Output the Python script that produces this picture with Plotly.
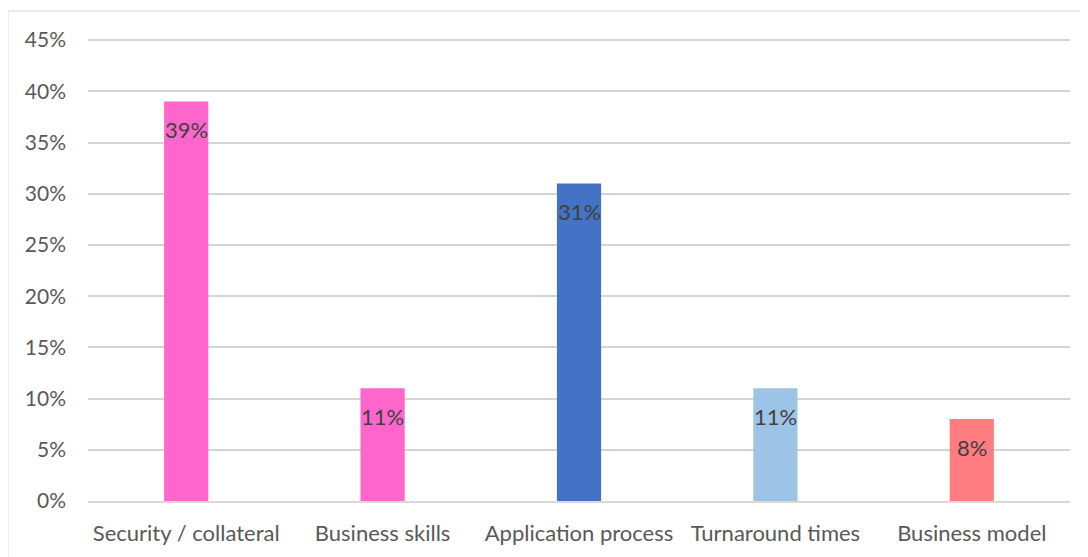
import plotly.graph_objects as go

categories = ["Security / collateral", "Business skills", "Application process", "Turnaround times", "Business model"]
values = [0.39, 0.11, 0.31, 0.11, 0.08]
labels = ["39%", "11%", "31%", "11%", "8%"]
colors = ["#FF66CC", "#FF66CC", "#4472C4", "#9DC3E6", "#FF7C80"]

FONT = "Lato"

fig = go.Figure()
fig.add_trace(go.Bar(
    x=categories, y=values,
    marker=dict(color=colors, line=dict(width=0)),
    width=0.225,
    hoverinfo="x+y",
))

for c, v, t in zip(categories, values, labels):
    fig.add_annotation(x=c, y=v, text=t, showarrow=False, yanchor="middle",
                       yshift=-28, font=dict(family=FONT, size=22, color="#404040"))

fig.add_shape(type="rect", xref="paper", yref="paper",
              x0=-0.0815, x1=1.1, y0=-0.3, y1=1.0515,
              line=dict(color="#d9d9d9", width=1), fillcolor="rgba(0,0,0,0)", layer="below")

fig.update_layout(
    width=1080, height=549,
    margin=dict(l=80, r=18, t=27, b=56, autoexpand=False),
    plot_bgcolor="white", paper_bgcolor="white",
    showlegend=False,
    font=dict(family=FONT, size=21, color="#595959"),
    xaxis=dict(showgrid=False, showline=True, linecolor="#d9d9d9", linewidth=1.5,
               ticks="", tickfont=dict(size=22, color="#595959"), ticklabelstandoff=12,
               automargin=False),
    yaxis=dict(range=[0, 0.455], tickvals=[0, 0.05, 0.1, 0.15, 0.2, 0.25, 0.3, 0.35, 0.4, 0.45],
               tickformat=".0%", showgrid=True,
               gridcolor="#d4d4d4", gridwidth=1.5, zeroline=False, showline=False,
               ticks="", tickfont=dict(size=21, color="#595959"), ticklabelstandoff=21,
               automargin=False),
    bargap=0.775,
)

fig.write_html("out.html")
